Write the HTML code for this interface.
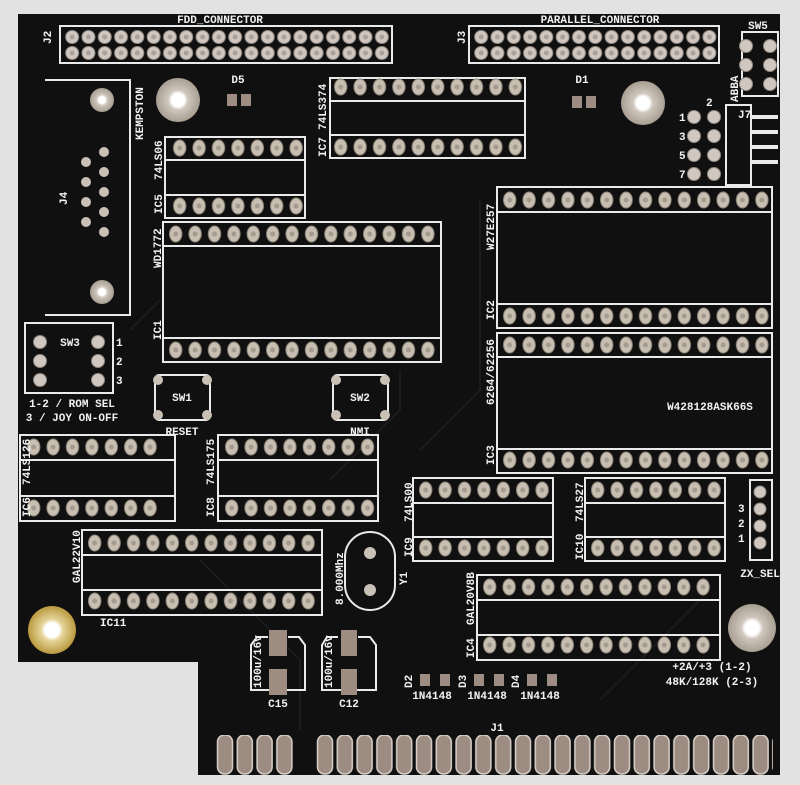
<!DOCTYPE html>
<html><head><meta charset="utf-8"><style>
html,body{margin:0;padding:0;background:#e2e2e2;}
svg{display:block}
text{font-family:"Liberation Mono",monospace;font-weight:bold;fill:#f2f2f2;font-size:11px}
</style></head><body>
<svg width="800" height="785" viewBox="0 0 800 785" xmlns="http://www.w3.org/2000/svg">
<defs>
<pattern id="dip" width="19.4" height="20" patternUnits="userSpaceOnUse">
<ellipse cx="9.7" cy="10" rx="6.2" ry="8" fill="#c9beb2" stroke="#8d8478" stroke-width="1"/>
<circle cx="9.7" cy="10" r="2.5" fill="#a49a8e"/>
</pattern>
<pattern id="hdr" width="16.3" height="18" patternUnits="userSpaceOnUse">
<circle cx="8.15" cy="9" r="6.5" fill="#d0c8c0" stroke="#8f877f"/>
<circle cx="8.15" cy="9" r="2.5" fill="#aaa29a"/>
</pattern>
<pattern id="fing" width="19.8" height="40" patternUnits="userSpaceOnUse">
<rect x="1.5" y="0" width="15" height="39" rx="7" fill="#9c8c82" stroke="#d8d0c8" stroke-width="1.5"/>
</pattern>
<radialGradient id="gold"><stop offset="0.3" stop-color="#fff"/><stop offset="0.45" stop-color="#e6d59a"/><stop offset="1" stop-color="#b9993f"/></radialGradient>
<radialGradient id="silv"><stop offset="0.3" stop-color="#fff"/><stop offset="0.45" stop-color="#cfc7bd"/><stop offset="1" stop-color="#a89e92"/></radialGradient>
</defs>
<rect width="800" height="785" fill="#e2e2e2"/>
<path d="M18,14 H780 V775 H198 V662 H18 Z" fill="#101011"/>
<g stroke="#1c1c1e" stroke-width="2" fill="none">
<path d="M200,560 L300,660 L300,730"/><path d="M420,450 L480,390 L480,200"/><path d="M330,480 L400,410 L400,370"/>
<path d="M600,700 L700,600"/><path d="M130,330 L160,300"/>
</g>
<g fill="none" stroke="#eaeaea" stroke-width="2">
<rect x="60" y="26" width="332" height="37"/>
<rect x="469" y="26" width="250" height="37"/>
<rect x="742" y="32" width="36" height="64"/>
<rect x="330" y="78" width="195" height="80"/><rect x="330" y="101" width="195" height="34"/>
<rect x="165" y="137" width="140" height="81"/><rect x="165" y="160" width="140" height="35"/>
<rect x="163" y="222" width="278" height="140"/><rect x="163" y="246" width="278" height="92"/>
<path d="M45,80 H130 V315 H45"/>
<rect x="25" y="323" width="88" height="70"/>
<rect x="155" y="375" width="55" height="45" rx="4"/><rect x="333" y="375" width="55" height="45" rx="4"/>
<rect x="497" y="187" width="275" height="141"/><rect x="497" y="212" width="275" height="92"/>
<rect x="497" y="333" width="275" height="140"/><rect x="497" y="357" width="275" height="92"/>
<rect x="20" y="435" width="155" height="86"/><rect x="20" y="460" width="155" height="36"/>
<rect x="218" y="435" width="160" height="86"/><rect x="218" y="460" width="160" height="36"/>
<rect x="413" y="478" width="140" height="83"/><rect x="413" y="503" width="140" height="34"/>
<rect x="585" y="478" width="140" height="83"/><rect x="585" y="503" width="140" height="34"/>
<rect x="82" y="530" width="240" height="85"/><rect x="82" y="555" width="240" height="35"/>
<rect x="345" y="532" width="50" height="78" rx="25"/>
<rect x="477" y="575" width="243" height="85"/><rect x="477" y="600" width="243" height="35"/>
<rect x="726" y="105" width="25" height="80"/>
<path d="M268,637 H257 L251,645 V690 H305 V645 L299,637 H288"/>
<path d="M338,637 H327 L322,645 V690 H376 V645 L370,637 H358"/>
<rect x="750" y="480" width="22" height="80"/>
</g>
<g fill="#eaeaea">
<rect x="751" y="115" width="27" height="4"/><rect x="751" y="130" width="27" height="4"/><rect x="751" y="145" width="27" height="4"/><rect x="751" y="160" width="27" height="4"/>
</g>
<g transform="translate(64,28)"><rect width="326" height="18" fill="url(#hdr)"/></g>
<g transform="translate(64,44)"><rect width="326" height="18" fill="url(#hdr)"/></g>
<g transform="translate(473,28)"><rect width="244" height="18" fill="url(#hdr)"/></g>
<g transform="translate(473,44)"><rect width="244" height="18" fill="url(#hdr)"/></g>
<g transform="translate(331,77)"><rect width="194" height="20" fill="url(#dip)"/></g>
<g transform="translate(331,137)"><rect width="194" height="20" fill="url(#dip)"/></g>
<g transform="translate(170,138)"><rect width="136" height="20" fill="url(#dip)"/></g>
<g transform="translate(170,196)"><rect width="136" height="20" fill="url(#dip)"/></g>
<g transform="translate(166,224)"><rect width="272" height="20" fill="url(#dip)"/></g>
<g transform="translate(166,340)"><rect width="272" height="20" fill="url(#dip)"/></g>
<g transform="translate(500,190)"><rect width="272" height="20" fill="url(#dip)"/></g>
<g transform="translate(500,306)"><rect width="272" height="20" fill="url(#dip)"/></g>
<g transform="translate(500,335)"><rect width="272" height="20" fill="url(#dip)"/></g>
<g transform="translate(500,450)"><rect width="272" height="20" fill="url(#dip)"/></g>
<g transform="translate(24,437)"><rect width="136" height="20" fill="url(#dip)"/></g>
<g transform="translate(24,498)"><rect width="136" height="20" fill="url(#dip)"/></g>
<g transform="translate(222,437)"><rect width="155" height="20" fill="url(#dip)"/></g>
<g transform="translate(222,498)"><rect width="155" height="20" fill="url(#dip)"/></g>
<g transform="translate(416,480)"><rect width="136" height="20" fill="url(#dip)"/></g>
<g transform="translate(416,538)"><rect width="136" height="20" fill="url(#dip)"/></g>
<g transform="translate(588,480)"><rect width="136" height="20" fill="url(#dip)"/></g>
<g transform="translate(588,538)"><rect width="136" height="20" fill="url(#dip)"/></g>
<g transform="translate(85,533)"><rect width="233" height="20" fill="url(#dip)"/></g>
<g transform="translate(85,591)"><rect width="233" height="20" fill="url(#dip)"/></g>
<g transform="translate(480,577)"><rect width="233" height="20" fill="url(#dip)"/></g>
<g transform="translate(480,635)"><rect width="233" height="20" fill="url(#dip)"/></g>
<!-- individual header pads -->
<g fill="#d0c8c0" stroke="#8f877f">
<circle cx="760" cy="492" r="6"/><circle cx="760" cy="509" r="6"/><circle cx="760" cy="526" r="6"/><circle cx="760" cy="543" r="6"/>
<circle cx="694" cy="117" r="6.5"/><circle cx="714" cy="117" r="6.5"/><circle cx="694" cy="136" r="6.5"/><circle cx="714" cy="136" r="6.5"/>
<circle cx="694" cy="155" r="6.5"/><circle cx="714" cy="155" r="6.5"/><circle cx="694" cy="174" r="6.5"/><circle cx="714" cy="174" r="6.5"/>
<circle cx="746" cy="46" r="6.5"/><circle cx="770" cy="46" r="6.5"/><circle cx="746" cy="65" r="6.5"/><circle cx="770" cy="65" r="6.5"/><circle cx="746" cy="84" r="6.5"/><circle cx="770" cy="84" r="6.5"/>
<circle cx="40" cy="342" r="6.5"/><circle cx="40" cy="361" r="6.5"/><circle cx="40" cy="380" r="6.5"/>
<circle cx="98" cy="342" r="6.5"/><circle cx="98" cy="361" r="6.5"/><circle cx="98" cy="380" r="6.5"/>
</g>
<g fill="#c9c0b6"><circle cx="104" cy="152" r="5"/><circle cx="104" cy="172" r="5"/><circle cx="104" cy="192" r="5"/><circle cx="104" cy="212" r="5"/><circle cx="104" cy="232" r="5"/>
<circle cx="86" cy="162" r="5"/><circle cx="86" cy="182" r="5"/><circle cx="86" cy="202" r="5"/><circle cx="86" cy="222" r="5"/></g>
<g fill="#c9c0b6"><circle cx="158" cy="380" r="5"/><circle cx="207" cy="380" r="5"/><circle cx="158" cy="415" r="5"/><circle cx="207" cy="415" r="5"/>
<circle cx="336" cy="380" r="5"/><circle cx="385" cy="380" r="5"/><circle cx="336" cy="415" r="5"/><circle cx="385" cy="415" r="5"/>
<circle cx="370" cy="553" r="6"/><circle cx="370" cy="590" r="6"/></g>
<g fill="#9c8c82"><rect x="269" y="630" width="18" height="26"/><rect x="269" y="669" width="18" height="26"/><rect x="341" y="630" width="16" height="26"/><rect x="341" y="669" width="16" height="26"/>
<rect x="420" y="674" width="10" height="12"/><rect x="440" y="674" width="10" height="12"/><rect x="474" y="674" width="10" height="12"/><rect x="494" y="674" width="10" height="12"/><rect x="527" y="674" width="10" height="12"/><rect x="547" y="674" width="10" height="12"/>
<rect x="227" y="94" width="10" height="12"/><rect x="241" y="94" width="10" height="12"/><rect x="572" y="96" width="10" height="12"/><rect x="586" y="96" width="10" height="12"/></g>
<circle cx="102" cy="100" r="12" fill="url(#silv)"/>
<circle cx="102" cy="292" r="12" fill="url(#silv)"/>
<circle cx="178" cy="100" r="22" fill="url(#silv)"/>
<circle cx="643" cy="103" r="22" fill="url(#silv)"/>
<circle cx="52" cy="630" r="24" fill="url(#gold)"/>
<circle cx="752" cy="628" r="24" fill="url(#silv)"/>
<g transform="translate(216,735)"><rect width="79" height="40" fill="url(#fing)"/></g>
<g transform="translate(316,735)"><rect width="457" height="40" fill="url(#fing)"/></g>
<text x="220" y="23" text-anchor="middle" font-size="10">FDD_CONNECTOR</text>
<text x="600" y="23" text-anchor="middle" font-size="10">PARALLEL_CONNECTOR</text>
<text x="758" y="29" text-anchor="middle" font-size="10">SW5</text>
<text x="738" y="118">J7</text>
<text x="706" y="106">2</text><text x="679" y="140">3</text><text x="679" y="121">1</text><text x="679" y="159">5</text><text x="679" y="178">7</text>
<text x="238" y="83" text-anchor="middle">D5</text>
<text x="582" y="83" text-anchor="middle">D1</text>
<text x="710" y="410" text-anchor="middle" font-size="8">W428128ASK66S</text>
<text x="70" y="346" text-anchor="middle">SW3</text>
<text x="116" y="346">1</text><text x="116" y="365">2</text><text x="116" y="384">3</text>
<text x="72" y="407" text-anchor="middle">1-2 / ROM SEL</text>
<text x="72" y="421" text-anchor="middle">3 / JOY ON-OFF</text>
<text x="182" y="401" text-anchor="middle">SW1</text><text x="182" y="435" text-anchor="middle">RESET</text>
<text x="360" y="401" text-anchor="middle">SW2</text><text x="360" y="435" text-anchor="middle">NMI</text>
<text x="100" y="626">IC11</text>
<text x="738" y="512">3</text><text x="738" y="527">2</text><text x="738" y="542">1</text>
<text x="760" y="577" text-anchor="middle">ZX_SEL</text>
<text x="712" y="670" text-anchor="middle">+2A/+3 (1-2)</text>
<text x="712" y="685" text-anchor="middle">48K/128K (2-3)</text>
<text x="278" y="707" text-anchor="middle">C15</text>
<text x="349" y="707" text-anchor="middle">C12</text>
<text x="432" y="699" text-anchor="middle">1N4148</text>
<text x="487" y="699" text-anchor="middle">1N4148</text>
<text x="540" y="699" text-anchor="middle">1N4148</text>
<text x="497" y="731" text-anchor="middle">J1</text>
<g font-size="10">
<text transform="translate(51,44) rotate(-90)">J2</text>
<text transform="translate(465,44) rotate(-90)">J3</text>
<text transform="translate(738,102) rotate(-90)">ABBA</text>
<text transform="translate(143,140) rotate(-90)">KEMPSTON</text>
<text transform="translate(67,205) rotate(-90)">J4</text>
<text transform="translate(326,130) rotate(-90)">74LS374</text>
<text transform="translate(326,157) rotate(-90)">IC7</text>
<text transform="translate(162,180) rotate(-90)">74LS06</text>
<text transform="translate(162,214) rotate(-90)">IC5</text>
<text transform="translate(161,268) rotate(-90)">WD1772</text>
<text transform="translate(161,340) rotate(-90)">IC1</text>
<text transform="translate(494,250) rotate(-90)">W27E257</text>
<text transform="translate(494,320) rotate(-90)">IC2</text>
<text transform="translate(494,405) rotate(-90)">6264/62256</text>
<text transform="translate(494,465) rotate(-90)">IC3</text>
<text transform="translate(30,485) rotate(-90)">74LS126</text>
<text transform="translate(30,517) rotate(-90)">IC6</text>
<text transform="translate(214,485) rotate(-90)">74LS175</text>
<text transform="translate(214,517) rotate(-90)">IC8</text>
<text transform="translate(412,522) rotate(-90)">74LS00</text>
<text transform="translate(412,557) rotate(-90)">IC9</text>
<text transform="translate(583,522) rotate(-90)">74LS27</text>
<text transform="translate(583,560) rotate(-90)">IC10</text>
<text transform="translate(80,583) rotate(-90)">GAL22V10</text>
<text transform="translate(343,605) rotate(-90)">8.000Mhz</text>
<text transform="translate(407,585) rotate(-90)">Y1</text>
<text transform="translate(474,625) rotate(-90)">GAL20V8B</text>
<text transform="translate(474,658) rotate(-90)">IC4</text>
<text transform="translate(261,688) rotate(-90)">100u/16v</text>
<text transform="translate(332,688) rotate(-90)">100u/16v</text>
<text transform="translate(412,688) rotate(-90)">D2</text>
<text transform="translate(466,688) rotate(-90)">D3</text>
<text transform="translate(519,688) rotate(-90)">D4</text>
</g>
</svg>
</body></html>
